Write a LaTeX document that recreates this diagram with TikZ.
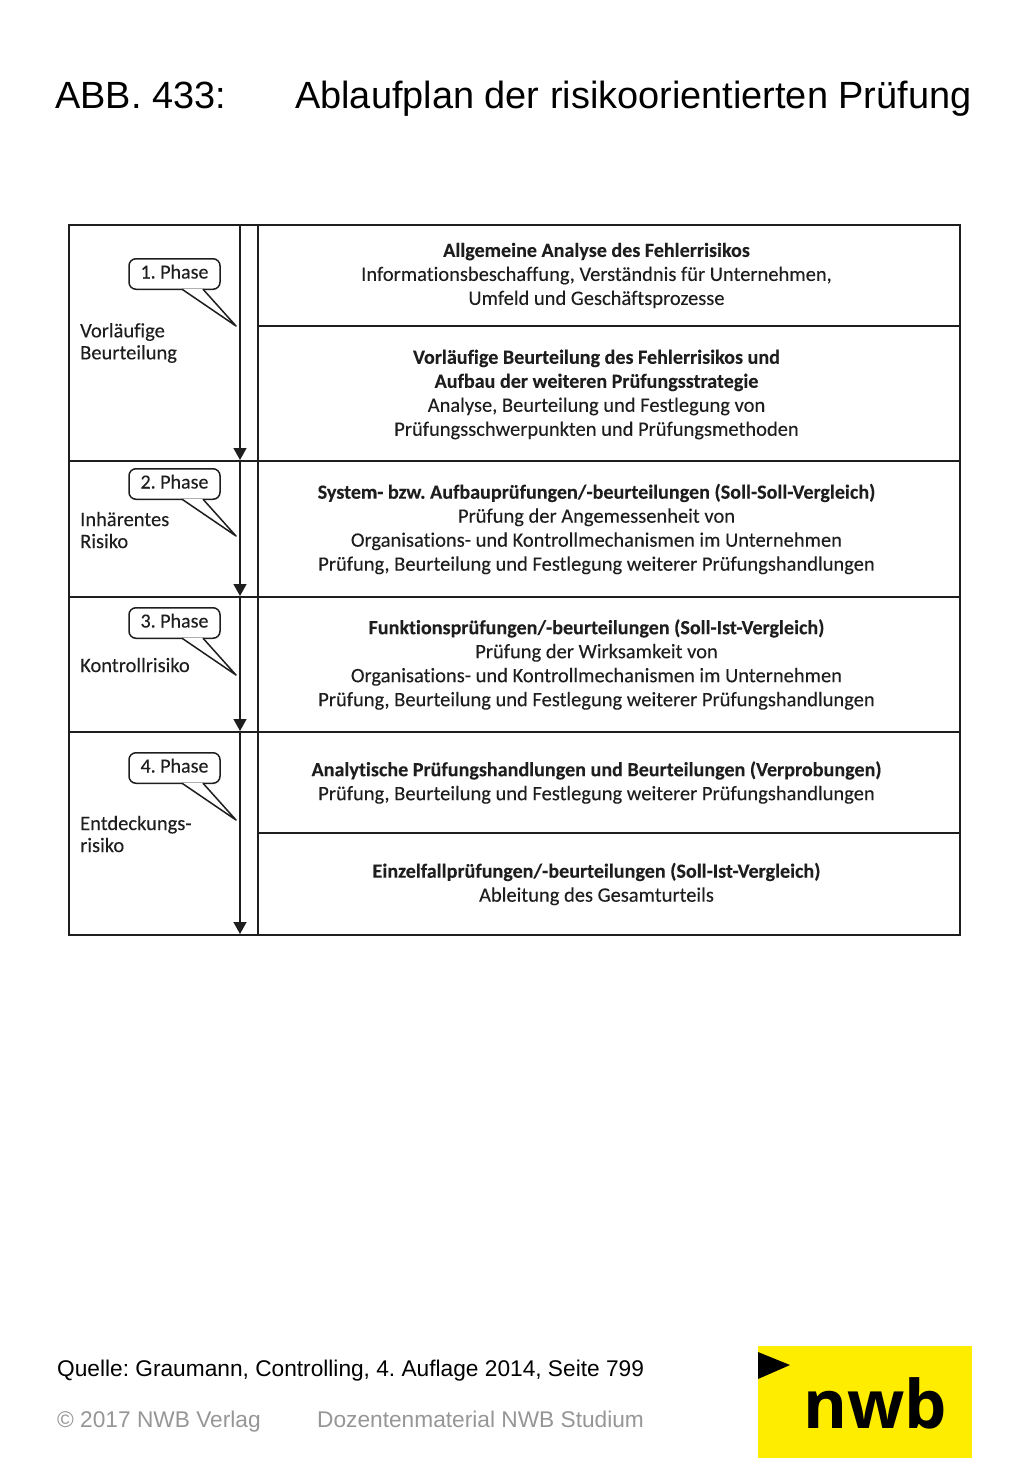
\documentclass[tikz,border=0pt]{standalone}
\usepackage{fontspec}
\setmainfont{Liberation Sans}
\newfontfamily\tabfont[Ligatures=NoCommon, FakeBold=0.15]{Carlito}
\newfontfamily\logofont{Open Sans}
\usetikzlibrary{arrows.meta, positioning}
\definecolor{ink}{RGB}{30,30,30}
\definecolor{nwbgray}{RGB}{150,150,150}
\definecolor{nwbyellow}{RGB}{255,237,0}
\newcommand{\hd}[1]{{\fontsize{20.1}{24}\selectfont\bfseries #1}}
\tikzset{
  % Zellen der Tabelle
  cell/.style={rectangle, draw=ink, line width=1.5pt, inner sep=0pt, outer sep=0pt},
  lcell/.style={cell, minimum width=189pt},
  rcell/.style={cell, minimum width=702pt},
  % Text in den Zellen
  ctext/.style={align=center, inner sep=0pt, text=ink, font=\tabfont\fontsize{20.5}{24}\selectfont},
  % Sprechblase der Phase
  phasebox/.style={rectangle, rounded corners=7pt, draw=ink, line width=1.5pt, fill=white,
                   minimum width=91pt, minimum height=30.5pt, inner sep=0pt, text=ink,
                   text height=14pt, text depth=5pt,
                   font=\tabfont\fontsize{20}{24}\selectfont},
  tail/.style={draw=ink, line width=1.5pt, fill=white, line join=round},
  risk/.style={anchor=west, align=left, inner sep=0pt, text=ink,
               font=\tabfont\fontsize{20.5}{22}\selectfont},
  flow/.style={-{Triangle[length=12pt,width=13pt]}, line width=1.5pt, draw=ink, shorten >=1pt},
  foot/.style={anchor=base west, inner sep=0pt, font=\fontsize{22.7}{26}\selectfont}
}
\begin{document}
\frenchspacing
\begin{tikzpicture}[x=1pt,y=-1pt]
    \useasboundingbox (0,0) rectangle (1024,1479);

    % --- Titel ---
    \node[anchor=base west, inner sep=0pt, font=\fontsize{37.9}{44}\selectfont] (abb) at (55,109) {ABB. 433:};
    \node[anchor=base west, inner sep=0pt, font=\fontsize{37.9}{44}\selectfont] (ttl) at (295,109)
      {Ablaufplan der risikoorientierten Prüfung};

    % --- linke Spalte ---
    \node[lcell, anchor=north west, minimum height=236pt] (fa) at (69,225) {};
    \node[lcell, below=0pt of fa, minimum height=136pt] (fb) {};
    \node[lcell, below=0pt of fb, minimum height=135pt] (fc) {};
    \node[lcell, below=0pt of fc, minimum height=203pt] (fd) {};

    % --- rechte Spalte ---
    \node[rcell, anchor=north west, minimum height=101pt] (ra) at (fa.north east) {};
    \node[rcell, below=0pt of ra, minimum height=135pt] (rb) {};
    \node[rcell, below=0pt of rb, minimum height=136pt] (rc) {};
    \node[rcell, below=0pt of rc, minimum height=135pt] (rd) {};
    \node[rcell, below=0pt of rd, minimum height=101pt] (re) {};
    \node[rcell, below=0pt of re, minimum height=102pt] (rf) {};

    % --- Texte rechts ---
    \node[ctext] (ta) at ([xshift=-12.5pt]ra.center)
      {\hd{Allgemeine Analyse des Fehlerrisikos}\\Informationsbeschaffung, Verständnis für Unternehmen,\\Umfeld und Geschäftsprozesse};
    \node[ctext] (tb) at ([xshift=-12.5pt,yshift=-1pt]rb.center)
      {\hd{Vorläufige Beurteilung des Fehlerrisikos und}\\\hd{Aufbau der weiteren Prüfungsstrategie}\\Analyse, Beurteilung und Festlegung von\\Prüfungsschwerpunkten und Prüfungsmethoden};
    \node[ctext] (tc) at ([xshift=-12.5pt]rc.center)
      {\hd{System- bzw. Aufbauprüfungen/-beurteilungen (Soll-Soll-Vergleich)}\\Prüfung der Angemessenheit von\\Organisations- und Kontrollmechanismen im Unternehmen\\Prüfung, Beurteilung und Festlegung weiterer Prüfungshandlungen};
    \node[ctext] (td) at ([xshift=-12.5pt]rd.center)
      {\hd{Funktionsprüfungen/-beurteilungen (Soll-Ist-Vergleich)}\\Prüfung der Wirksamkeit von\\Organisations- und Kontrollmechanismen im Unternehmen\\Prüfung, Beurteilung und Festlegung weiterer Prüfungshandlungen};
    \node[ctext] (te) at ([xshift=-12.5pt]re.center)
      {\hd{Analytische Prüfungshandlungen und Beurteilungen (Verprobungen)}\\Prüfung, Beurteilung und Festlegung weiterer Prüfungshandlungen};
    \node[ctext] (tf) at ([xshift=-12.5pt]rf.center)
      {\hd{Einzelfallprüfungen/-beurteilungen (Soll-Ist-Vergleich)}\\Ableitung des Gesamturteils};

    % --- Pfeil durch die Phasen ---
    \coordinate (p0) at ([xshift=171pt]fa.north west);
    \coordinate (p1) at ([xshift=171pt]fa.south west);
    \coordinate (p2) at ([xshift=171pt]fb.south west);
    \coordinate (p3) at ([xshift=171pt]fc.south west);
    \coordinate (p4) at ([xshift=171pt]fd.south west);
    \draw[flow] (p0) -- (p1);
    \draw[flow] (p1) -- (p2);
    \draw[flow] (p2) -- (p3);
    \draw[flow] (p3) -- (p4);

    % --- Sprechblasen ---
    \node[phasebox, anchor=north] (pha) at ([xshift=105.5pt,yshift=-33pt]fa.north west) {1. Phase};
    \node[phasebox, anchor=north] (phb) at ([xshift=105.5pt,yshift=-7pt]fb.north west) {2. Phase};
    \node[phasebox, anchor=north] (phc) at ([xshift=105.5pt,yshift=-10pt]fc.north west) {3. Phase};
    \node[phasebox, anchor=north] (phd) at ([xshift=105.5pt,yshift=-20pt]fd.north west) {4. Phase};
    \draw[tail] ([xshift=7.5pt,yshift=0.8pt]pha.south) -- ([xshift=61.5pt,yshift=-36pt]pha.south) -- ([xshift=28.5pt,yshift=0.8pt]pha.south);
    \draw[tail] ([xshift=7.5pt,yshift=0.8pt]phb.south) -- ([xshift=61.5pt,yshift=-36pt]phb.south) -- ([xshift=28.5pt,yshift=0.8pt]phb.south);
    \draw[tail] ([xshift=7.5pt,yshift=0.8pt]phc.south) -- ([xshift=61.5pt,yshift=-36pt]phc.south) -- ([xshift=28.5pt,yshift=0.8pt]phc.south);
    \draw[tail] ([xshift=7.5pt,yshift=0.8pt]phd.south) -- ([xshift=61.5pt,yshift=-36pt]phd.south) -- ([xshift=28.5pt,yshift=0.8pt]phd.south);

    % --- Risikoarten ---
    \node[risk] (rka) at ([xshift=11pt,yshift=-118pt]fa.north west) {Vorläufige\\Beurteilung};
    \node[risk] (rkb) at ([xshift=11pt,yshift=-69pt]fb.north west) {Inhärentes\\Risiko};
    \node[risk] (rkc) at ([xshift=11pt,yshift=-68pt]fc.north west) {Kontrollrisiko};
    \node[risk] (rkd) at ([xshift=11pt,yshift=-102pt]fd.north west) {Entdeckungs-\\risiko};

    % --- Fußzeile ---
    \node[foot] (src) at (57,1376) {Quelle: Graumann, Controlling, 4. Auflage 2014, Seite 799};
    \node[foot, text=nwbgray] (cpr) at (57,1427) {© 2017 NWB Verlag};
    \node[foot, text=nwbgray] (doz) at (317,1427) {Dozentenmaterial NWB Studium};

    % --- Logo ---
    \node[rectangle, fill=nwbyellow, anchor=north west, minimum width=214pt, minimum height=112pt,
          inner sep=0pt] (logo) at (758,1346) {};
    \fill[black] ([yshift=-6pt]logo.north west) -- ([xshift=32pt,yshift=-19pt]logo.north west)
      -- ([yshift=-33pt]logo.north west) -- cycle;
    \node[anchor=base, inner sep=0pt, font=\logofont\bfseries\fontsize{67}{67}\selectfont] (nwb)
      at (875,1428) {nwb};
\end{tikzpicture}
\end{document}
